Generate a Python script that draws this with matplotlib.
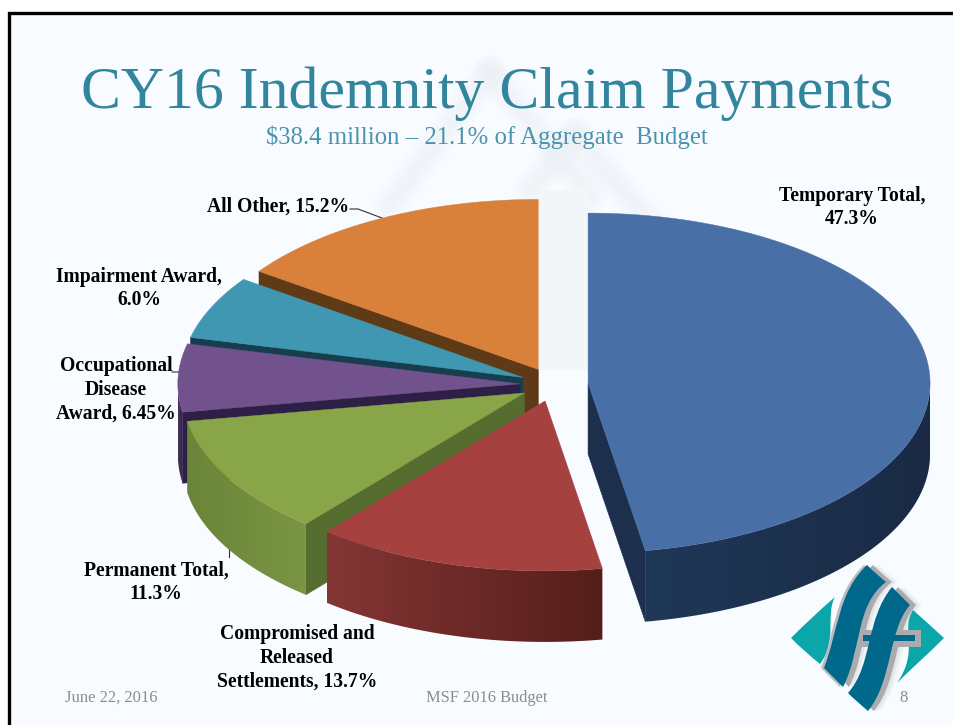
import numpy as np
import matplotlib
matplotlib.use("Agg")
import matplotlib.pyplot as plt
from matplotlib.colors import LinearSegmentedColormap
from matplotlib.patches import PathPatch, Polygon
from matplotlib.path import Path

# Data, clockwise from 12 o'clock
LABELS = ["Temporary Total,\n47.3%", "Compromised and\nReleased\nSettlements, 13.7%",
          "Permanent Total,\n11.3%", "Occupational\nDisease\nAward, 6.45%",
          "Impairment Award,\n6.0%", "All Other, 15.2%"]
VALUES = [47.3, 13.7, 11.3, 6.45, 6.0, 15.2]

TOP_COLORS = ["#4870A6", "#A5413F", "#88A548", "#71528C", "#3F97B2", "#D9803A"]
EDGE_COLORS = ["#1C2F4C", "#5A201D", "#566D30", "#2E1F47", "#173E4E", "#5F3A17"]
WALL_LEFT = ["#1F3858", "#843634", "#6A8439", "#46335F", "#2C6A7E", "#9A5A25"]
WALL_RIGHT = ["#1A2A44", "#551E1B", "#7A9643", "#33244A", "#1F4E5E", "#6E4019"]

LABEL_POS = [(852, 207.5), (297, 658), (156, 582.5), (116, 390), (139, 288.5), (278, 207)]
LEADERS = [[(350, 209), (358, 209), (382, 218)], [(172, 372), (180, 372), (183, 377)],
           [(229, 547), (229, 557)]]

# Pie layout in picture pixels
CENTER = (554, 384.5)
RX, RY = 342, 170
DEPTH = 71
EXPLODE = 0.1

BG = "#F8FBFF"
TITLE_COLOR = "#31859C"
SUB_COLOR = "#4A93AE"
FOOT_COLOR = "#8C8C8C"
FONT = "Liberation Serif"


def rim(apex, theta):
    """Points on the top rim, theta in degrees clockwise from 12 o'clock."""
    t = np.radians(theta)
    return np.column_stack([apex[0] + RX * np.sin(t), apex[1] - RY * np.cos(t)])


def paint_wedge(ax, start, end, i):
    mid = np.radians(0.5 * (start + end))
    apex = (CENTER[0] + EXPLODE * RX * np.sin(mid), CENTER[1] - EXPLODE * RY * np.cos(mid))
    apex_low = np.array([apex[0], apex[1] + DEPTH])
    a = np.array(apex)

    # flat cut faces, only the ones turned to the viewer
    for theta, visible in ((start, np.sin(np.radians(start)) < -1e-6),
                           (end, np.sin(np.radians(end)) > 1e-6)):
        if visible:
            p = rim(apex, np.array([theta]))[0]
            ax.add_patch(Polygon([a, p, p + (0, DEPTH), apex_low], fc=EDGE_COLORS[i], ec=EDGE_COLORS[i], lw=0.4, zorder=10 + 6 - i))

    # curved outer wall with a left-right shade
    lo, hi = max(start, 90), min(end, 270)
    if hi > lo:
        th = np.linspace(lo, hi, 120)
        top = rim(apex, th)
        poly = np.vstack([top, (top + (0, DEPTH))[::-1]])
        patch = Polygon(poly, fc="none", ec="none", zorder=10 + 6 - i)
        ax.add_patch(patch)
        cmap = LinearSegmentedColormap.from_list("w", [WALL_LEFT[i], WALL_RIGHT[i]])
        x0, x1 = poly[:, 0].min(), poly[:, 0].max()
        y0, y1 = poly[:, 1].min(), poly[:, 1].max()
        im = ax.imshow(np.linspace(0, 1, 256).reshape(1, -1), cmap=cmap, aspect="auto",
                       extent=(x0, x1, y1, y0), zorder=10 + 6 - i, interpolation="bilinear")
        im.set_clip_path(patch)

    th = np.linspace(start, end, 200)
    top = np.vstack([[a], rim(apex, th)])
    ax.add_patch(Polygon(top, fc=TOP_COLORS[i], ec=TOP_COLORS[i], lw=0.3, zorder=10.5 + 6 - i))


def curve(ax, verts, color, z, shift=0.0, alpha=1.0):
    """Closed shape from cubic segments: start point then triples of points."""
    pts = [(x + shift, y) for x, y in verts]
    codes = [Path.MOVETO] + [Path.CURVE4] * (len(pts) - 1) + [Path.CLOSEPOLY]
    ax.add_patch(PathPatch(Path(pts + [pts[0]], codes), fc=color, ec="none", alpha=alpha, zorder=z))


def paint_logo(ax):
    band1 = [(867, 565), (873, 571), (880, 577), (886, 582), (855, 605), (862, 650), (843, 687),
             (836, 680), (830, 674), (824, 668), (838, 632), (838, 592), (867, 565)]
    band2 = [(892, 587), (898, 593), (904, 599), (910, 605), (888, 630), (893, 680), (868, 711),
             (861, 705), (854, 699), (848, 693), (873, 665), (865, 620), (892, 587)]
    # soft shadow on the right of the bands
    for s, al in ((12, 0.05), (9, 0.07)):
        curve(ax, band1, "#555555", 30, shift=s, alpha=al)
        curve(ax, band2, "#555555", 30, shift=s, alpha=al)
    # light side triangles
    curve(ax, [(791, 638), (805, 624), (820, 610), (835, 597), (825, 615), (838, 640), (820, 664),
               (810, 656), (800, 647), (791, 638)], "#0BA6A9", 31)
    curve(ax, [(944, 638), (933, 628), (922, 618), (913, 610), (900, 630), (920, 650), (897, 683),
               (912, 668), (928, 654), (944, 638)], "#0BA6A9", 31)
    # gray rims beside the bands
    curve(ax, band1, "#A9ABAE", 32, shift=6)
    curve(ax, band1, "#B9BBBE", 32, shift=-3)
    curve(ax, band2, "#A9ABAE", 32, shift=6)
    ax.add_patch(Polygon([(858, 630), (921, 630), (921, 647), (858, 647)], fc="#A9ABAE", ec="none", zorder=32))
    # dark bands
    curve(ax, band1, "#00688A", 33)
    curve(ax, band2, "#00688A", 33)
    ax.add_patch(Polygon([(863, 635), (915, 635), (915, 641), (863, 641)], fc="#00688A", ec="none", zorder=33))


def paint_watermark(ax):
    # soft, barely visible strokes behind the chart
    strokes = [[(490, 72), (390, 205)], [(490, 72), (590, 195)], [(575, 135), (530, 190)], [(575, 135), (670, 245)]]
    for xs_ys in strokes:
        xs, ys = zip(*xs_ys)
        for w in (34, 26, 18, 10):
            ax.plot(xs, ys, color="#E6ECF1", lw=w * 0.72, alpha=0.1, solid_capstyle="round", zorder=1)
    ax.add_patch(Polygon([(539, 190), (588, 190), (588, 370), (539, 370)], fc="#F2F6F9", ec="none", zorder=1))


if __name__ == "__main__":
    fig = plt.figure(figsize=(9.54, 7.25), dpi=100, facecolor="white")
    ax = fig.add_axes([0, 0, 1, 1])
    ax.set_xlim(0, 954)
    ax.set_ylim(725, 0)
    ax.axis("off")

    # slide panel and its frame
    ax.add_patch(Polygon([(9, 13), (960, 13), (960, 730), (9, 730)], fc=BG, ec="black", lw=2.4, zorder=0))
    paint_watermark(ax)

    ax.text(487, 108, "CY16 Indemnity Claim Payments", family=FONT, fontsize=43, color=TITLE_COLOR, ha="center", va="baseline", zorder=40)
    ax.text(487, 144, "$38.4 million – 21.1% of Aggregate  Budget", family=FONT, fontsize=17.8, color=SUB_COLOR, ha="center", va="baseline", zorder=40)

    frac = 360 * np.array(VALUES) / np.sum(VALUES)
    ends = np.cumsum(frac)
    starts = ends - frac
    for i in range(len(VALUES)):
        paint_wedge(ax, starts[i], ends[i], i)

    for label, (x, y) in zip(LABELS, LABEL_POS):
        ax.text(x, y, label, family=FONT, weight="bold", fontsize=14.1, color="black", ha="center", va="center",
                linespacing=1.25, multialignment="center", zorder=40)
    for line in LEADERS:
        xs, ys = zip(*line)
        ax.plot(xs, ys, color="#333333", lw=0.8, zorder=5)

    paint_logo(ax)

    ax.text(65, 698, "June 22, 2016", family=FONT, fontsize=12, color=FOOT_COLOR, ha="left", va="center", zorder=40)
    ax.text(487, 698, "MSF 2016 Budget", family=FONT, fontsize=11.8, color=FOOT_COLOR, ha="center", va="center", zorder=40)
    ax.text(904, 698, "8", family=FONT, fontsize=12, color=FOOT_COLOR, ha="center", va="center", zorder=40)

    ax.set_xlim(0, 954)
    ax.set_ylim(725, 0)
    fig.savefig("out.png", dpi=100, facecolor="white")
    plt.close(fig)
